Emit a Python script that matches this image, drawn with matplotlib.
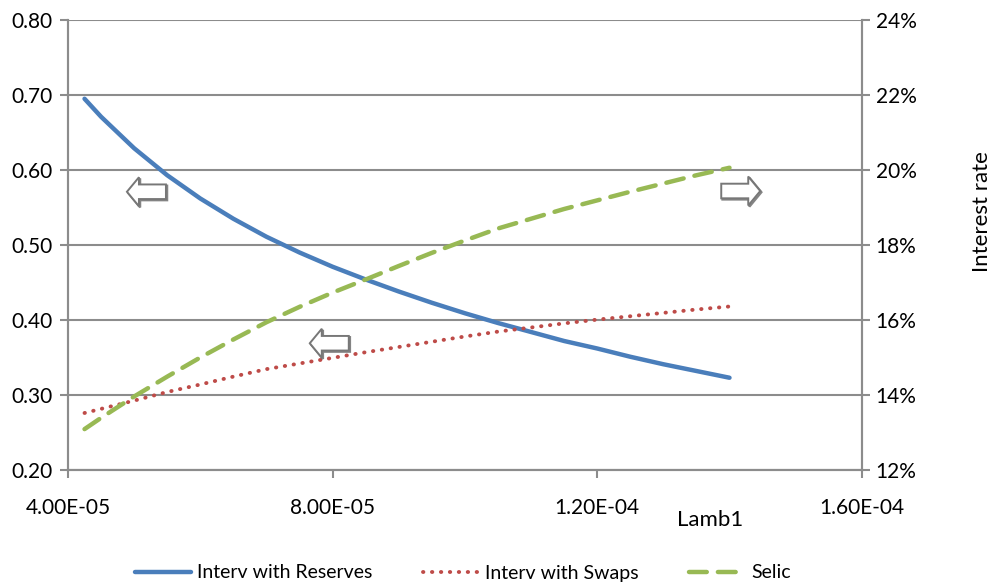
import matplotlib
matplotlib.use("Agg")
import matplotlib.pyplot as plt
import matplotlib.transforms as mtransforms
from matplotlib.patches import Polygon
from matplotlib.ticker import FuncFormatter, FixedLocator

# Data
lamb1 = [4.25e-5, 4.5e-5, 5e-5, 5.5e-5, 6e-5, 6.5e-5, 7e-5, 7.5e-5, 8e-5, 8.5e-5, 9e-5,
         9.5e-5, 10e-5, 10.5e-5, 11e-5, 11.5e-5, 12e-5, 12.5e-5, 13e-5, 13.5e-5, 14e-5]
reserves = [0.695, 0.671, 0.629, 0.593, 0.562, 0.535, 0.511, 0.490, 0.471, 0.454, 0.438,
            0.423, 0.409, 0.396, 0.384, 0.372, 0.362, 0.351, 0.341, 0.332, 0.323]
swaps = [0.276, 0.2815, 0.2925, 0.304, 0.314, 0.3245, 0.3345, 0.342, 0.3495, 0.357, 0.364,
         0.371, 0.378, 0.3845, 0.390, 0.3955, 0.4005, 0.405, 0.4095, 0.414, 0.418]
selic = [13.09, 13.39, 13.96, 14.49, 15.0, 15.48, 15.94, 16.35, 16.73, 17.08, 17.44,
         17.79, 18.12, 18.44, 18.70, 18.96, 19.19, 19.42, 19.64, 19.86, 20.06]  # percent

x_ticks = [4e-5, 8e-5, 1.2e-4, 1.6e-4]
x_tick_labels = ["4.00E-05", "8.00E-05", "1.20E-04", "1.60E-04"]
left_ticks = [0.2, 0.3, 0.4, 0.5, 0.6, 0.7, 0.8]
right_ticks = [12, 14, 16, 18, 20, 22, 24]

# arrow annotations: (x, y-left-axis, direction)
arrows = [(5.186e-5, 0.571, -1), (7.95e-5, 0.369, -1), (1.417e-4, 0.572, 1)]

plt.rcParams['font.family'] = ['Lato', 'DejaVu Sans']

fig = plt.figure(figsize=(9.94, 5.85), dpi=100)
ax = fig.add_axes([0.0684, 0.1966, 0.7986, 0.7692])
ax2 = ax.twinx()

grid_c = "#8c8c8c"
ax.set_xlim(4e-5, 1.6e-4)
ax.set_ylim(0.2, 0.8)
ax2.set_ylim(12, 24)

ax.set_yticks(left_ticks)
ax.yaxis.set_major_formatter(FuncFormatter(lambda v, p: f"{v:.2f}"))
ax2.set_yticks(right_ticks)
ax2.yaxis.set_major_formatter(FuncFormatter(lambda v, p: f"{v:.0f}%"))
ax.xaxis.set_major_locator(FixedLocator(x_ticks))
ax.set_xticklabels(x_tick_labels)

ax.grid(axis='y', color=grid_c, lw=1.5)
ax.set_axisbelow(True)
for a in (ax, ax2):
    for s in a.spines.values():
        s.set_color(grid_c)
        s.set_linewidth(1.5)
    a.spines['top'].set_visible(False)
    a.tick_params(colors=grid_c, width=1.5, length=6, labelsize=15, labelcolor='black')
ax.tick_params(axis='x', pad=14)
ax.tick_params(axis='y', pad=5)
ax2.tick_params(axis='y', pad=4)

l1, = ax.plot(lamb1, reserves, color="#4A7EBB", lw=3.2, solid_capstyle='round',
              solid_joinstyle='round', label="Interv with Reserves")
l2, = ax.plot(lamb1, swaps, color="#BE4B48", lw=2.8, linestyle=(0, (0.1, 2.2)),
              dash_capstyle='round', label="Interv with Swaps")
l3, = ax2.plot(lamb1, selic, color="#98B954", lw=3.2, linestyle=(0, (4, 2.5)),
               dash_capstyle='round', label="Selic")

# block arrows (shape in inches, placed at data position)
def arrow_verts(d):
    s = 0.01  # 1 px at 100 dpi
    pts = [(-19.5, 0), (-7.5, 14.5), (-7.5, 7.3), (19.5, 7.3), (19.5, -7.3), (-7.5, -7.3), (-7.5, -14.5)]
    return [(d * -x * s, y * s) for x, y in pts]

for ax_x, ax_y, d in arrows:
    trans = fig.dpi_scale_trans + mtransforms.ScaledTranslation(ax_x, ax_y, ax.transData)
    shadow_t = trans + mtransforms.Affine2D().translate(1.2, -1.2)
    ax.add_patch(Polygon(arrow_verts(d), closed=True, fc='none', ec='#333333', lw=1.6,
                         transform=shadow_t, zorder=5, alpha=0.6))
    ax.add_patch(Polygon(arrow_verts(d), closed=True, fc='white', ec='#777777', lw=1.4,
                         transform=trans, zorder=6))

fig.text(710/994, 1 - 520/585, "Lamb1", fontsize=16, ha='center', va='center')
fig.text(982/994, 1 - 212/585, "Interest rate", fontsize=16, ha='center', va='center',
         rotation=90)

fig.legend(handles=[l1, l2, l3], loc='center', bbox_to_anchor=(463/994, 1 - 573/585),
           ncol=3, frameon=False, fontsize=14, handlelength=2.9, columnspacing=2.6,
           handletextpad=0.3)

fig.savefig("out.png", dpi=100)
